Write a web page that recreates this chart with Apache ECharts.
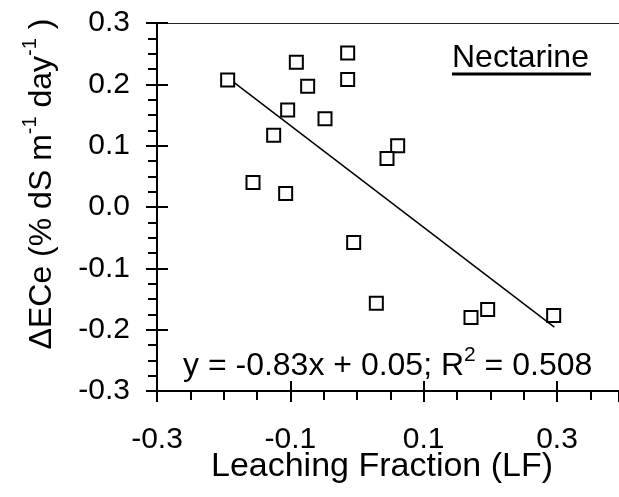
<!DOCTYPE html>
<html><head><meta charset="utf-8">
<script src="https://cdn.jsdelivr.net/npm/echarts@6/dist/echarts.min.js"></script>
<style>html,body{margin:0;padding:0;background:#fff}#c{width:619px;height:497px}</style>
</head><body><div id="c"></div>
<script>
// Data
const leachingFraction = [-0.194, -0.091, -0.014, -0.014, -0.074, -0.104, -0.048, -0.125, 0.061, 0.045, -0.156, -0.107, -0.005, 0.029, 0.171, 0.196, 0.295];
const deltaECe        = [0.207, 0.236, 0.251, 0.208, 0.197, 0.158, 0.144, 0.117, 0.100, 0.079, 0.040, 0.022, -0.058, -0.157, -0.180, -0.167, -0.177];
const fitX = [-0.194, 0.296];
const fitY = [0.211, -0.196];
const xTickLabels = ['-0.3', '-0.1', '0.1', '0.3'];
const yTickLabels = ['-0.3', '-0.2', '-0.1', '0.0', '0.1', '0.2', '0.3'];
const panelName = 'Nectarine';
const equationMain = 'y = -0.83x + 0.05; R';
const equationSup = '2';
const equationTail = ' = 0.508';
const xTitle = 'Leaching Fraction (LF)';

const FONT = "'Liberation Sans', Arial, sans-serif";
const black = '#000';
const chart = echarts.init(document.getElementById('c'), null, {renderer: 'canvas'});

const scatterData = leachingFraction.map((x, i) => [x, deltaECe[i]]);
const fitData = fitX.map((x, i) => [x, fitY[i]]);

const X_MIN = -0.3, X_MAX = 0.393;
const noLine = {show: false, onZero: false};
const helperBase = {type: 'value', min: 0, max: X_MAX - X_MIN, interval: 0.2, position: 'bottom', axisLine: noLine, splitLine: {show: false}};

chart.setOption({
  animation: false,
  backgroundColor: '#fff',
  textStyle: {fontFamily: FONT},
  grid: {left: 157, top: 23, right: 0, height: 368, containLabel: false},
  xAxis: [
    {type: 'value', min: X_MIN, max: X_MAX, interval: 0.05, position: 'bottom',
     axisLine: {show: true, onZero: false, lineStyle: {color: black, width: 2}},
     axisTick: {show: true, inside: false, length: 9, lineStyle: {color: black, width: 2}},
     axisLabel: {show: false}, splitLine: {show: false}},
    Object.assign({}, helperBase, {
     axisTick: {show: true, inside: true, length: 10, lineStyle: {color: black, width: 2}},
     axisLabel: {show: true, fontSize: 30, color: black, fontFamily: FONT, margin: 34, showMaxLabel: false,
       formatter: v => { const i = Math.round(v / 0.2); return xTickLabels[i] !== undefined && Math.abs(v - i * 0.2) < 1e-6 ? xTickLabels[i] : ''; }}}),
    Object.assign({}, helperBase, {
     axisTick: {show: true, inside: false, length: 11, lineStyle: {color: black, width: 2}},
     axisLabel: {show: false}}),
    {type: 'value', min: X_MIN, max: X_MAX, position: 'top',
     axisLine: {show: true, onZero: false, lineStyle: {color: '#222', width: 1}},
     axisTick: {show: false}, axisLabel: {show: false}, splitLine: {show: false}}
  ],
  yAxis: [
    {type: 'value', min: -0.3, max: 0.3, interval: 0.1, position: 'left',
     axisLine: {show: true, onZero: false, lineStyle: {color: black, width: 2}},
     axisTick: {show: true, inside: false, length: 11, lineStyle: {color: black, width: 2}},
     minorTick: {show: true, splitNumber: 4, length: 9, lineStyle: {color: black, width: 2}},
     axisLabel: {show: true, fontSize: 30, color: black, fontFamily: FONT, margin: 27,
       formatter: v => { const i = Math.round((v + 0.3) / 0.1); return yTickLabels[i] || ''; }},
     splitLine: {show: false}, minorSplitLine: {show: false}},
    {type: 'value', min: -0.3, max: 0.3, interval: 0.1, position: 'left',
     axisLine: noLine,
     axisTick: {show: true, inside: true, length: 11, lineStyle: {color: black, width: 2}},
     axisLabel: {show: false}, splitLine: {show: false}}
  ],
  series: [
    {type: 'line', xAxisIndex: 0, yAxisIndex: 0, data: fitData, symbol: 'none', z: 2,
     lineStyle: {color: black, width: 1.5}},
    {type: 'scatter', xAxisIndex: 0, yAxisIndex: 0, data: scatterData, symbol: 'rect', symbolSize: 13, z: 3,
     itemStyle: {color: '#fff', borderColor: black, borderWidth: 2, opacity: 1}}
  ],
  graphic: [
    {type: 'text', left: 452, top: 42, z: 10,
     style: {text: panelName, font: '32px ' + FONT, fill: black}},
    {type: 'line', z: 10, shape: {x1: 452, y1: 74, x2: 591, y2: 74}, style: {stroke: black, lineWidth: 3}},
    {type: 'text', x: 183, y: 366, z: 10,
     style: {text: '{n|' + equationMain + '}{s|' + equationSup + '}{n|' + equationTail + '}',
       verticalAlign: 'middle', align: 'left',
       rich: {n: {fontSize: 32, fontFamily: FONT, lineHeight: 42, fill: black, verticalAlign: 'middle'},
              s: {fontSize: 21, fontFamily: FONT, lineHeight: 21, fill: black, verticalAlign: 'top'}}}},
    {type: 'text', x: 382, y: 467, z: 10,
     style: {text: xTitle, font: '34px ' + FONT, fill: black, align: 'center', verticalAlign: 'middle'}},
    {type: 'text', x: 42, y: 184, rotation: Math.PI / 2, z: 10,
     style: {text: '{n|ΔECe (% dS m}{s|-1}{n| day}{s|-1}{n| )}',
       align: 'center', verticalAlign: 'middle',
       rich: {n: {fontSize: 32, fontFamily: FONT, lineHeight: 44, fill: black, verticalAlign: 'middle'},
              s: {fontSize: 20, fontFamily: FONT, lineHeight: 20, fill: black, verticalAlign: 'top'}}}}
  ]
});
</script></body></html>
